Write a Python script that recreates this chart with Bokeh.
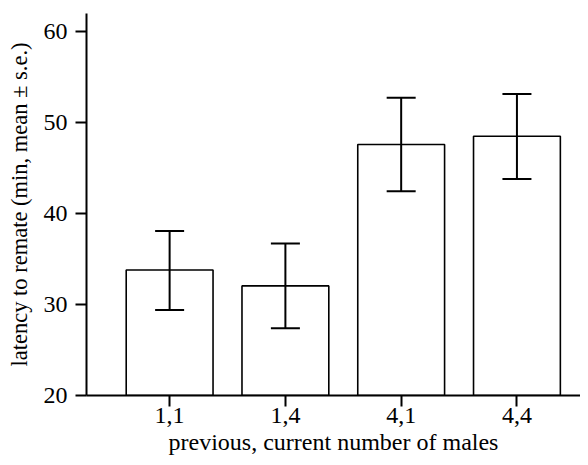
from bokeh.plotting import figure
from bokeh.models import Range1d, FixedTicker, Whisker, TeeHead, ColumnDataSource
from bokeh.embed import file_html
from bokeh.resources import INLINE

categories = ["1,1", "1,4", "4,1", "4,4"]
means = [33.8, 32.05, 47.6, 48.5]
upper = [38.1, 36.7, 52.75, 53.15]
lower = [29.4, 27.4, 42.45, 43.8]
y_ticks = [20, 30, 40, 50, 60]

xs = list(range(1, len(categories) + 1))
src = ColumnDataSource(dict(x=xs, top=means, upper=upper, lower=lower))

p = figure(width=580, height=457, output_backend="svg", toolbar_location=None,
           x_range=Range1d(0.282, 4.549), y_range=Range1d(20, 62),
           min_border_left=86, min_border_top=13, min_border_bottom=62, min_border_right=0)

p.vbar(x="x", top="top", bottom=20, width=0.75, source=src,
       fill_color="white", line_color="black", line_width=1.6)

w = Whisker(base="x", upper="upper", lower="lower", source=src,
            line_color="black", line_width=2, level="overlay",
            upper_head=TeeHead(size=29, line_color="black", line_width=2),
            lower_head=TeeHead(size=29, line_color="black", line_width=2))
p.add_layout(w)

p.grid.visible = False
p.outline_line_color = None
p.background_fill_color = "white"
p.border_fill_color = "white"

font = "Liberation Serif"
for ax in (p.xaxis[0], p.yaxis[0]):
    ax.axis_line_color = "black"
    ax.axis_line_width = 2
    ax.major_tick_line_color = "black"
    ax.major_tick_line_width = 2
    ax.major_tick_in = 0
    ax.major_tick_out = 11
    ax.minor_tick_line_color = None
    ax.major_label_text_font = font
    ax.major_label_text_font_size = "24px"
    ax.major_label_text_color = "black"
    ax.axis_label_text_font = font
    ax.axis_label_text_font_size = "24px"
    ax.axis_label_text_font_style = "normal"
    ax.axis_label_text_color = "black"

p.xaxis[0].ticker = FixedTicker(ticks=xs)
p.xaxis[0].major_label_overrides = {x: c for x, c in zip(xs, categories)}
p.xaxis[0].axis_label = "previous, current number of males"
p.xaxis[0].major_label_standoff = 1
p.xaxis[0].axis_label_standoff = 3

p.yaxis[0].ticker = FixedTicker(ticks=y_ticks)
p.yaxis[0].major_label_standoff = 8
p.yaxis[0].axis_label = "latency to remate (min, mean ± s.e.)"
p.yaxis[0].axis_label_text_font_size = "22.5px"
p.yaxis[0].axis_label_standoff = 9

open("out.html", "w").write(file_html(p, INLINE))
